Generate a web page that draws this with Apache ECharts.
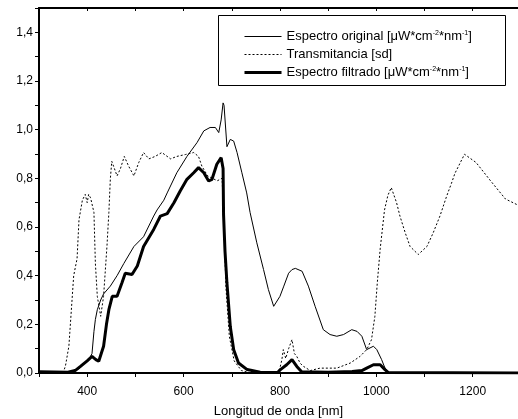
<!DOCTYPE html>
<html>
<head>
<meta charset="utf-8">
<script src="https://cdn.jsdelivr.net/npm/echarts@6/dist/echarts.min.js"></script>
<style>
  html, body { margin: 0; padding: 0; background: #fff; }
  #chart { width: 518px; height: 419px; }
</style>
</head>
<body>
<div id="chart"></div>
<script>
// espectro original
var origNm = [300, 340, 370, 385, 395, 405, 410, 414, 417, 421, 428, 434, 448, 462, 476, 497, 517, 538, 545, 559, 566, 586, 607, 628, 642, 655, 666, 673, 678, 682, 684, 690, 697, 704, 711, 721, 731, 738, 752, 766, 776, 787, 800, 808, 818, 825, 832, 846, 859, 873, 890, 904, 918, 932, 949, 960, 970, 980, 994, 1001, 1011, 1018, 1025, 1294];
var origVal = [0, 0, 0.005, 0.02, 0.04, 0.06, 0.08, 0.17, 0.22, 0.26, 0.3, 0.325, 0.357, 0.4, 0.45, 0.52, 0.56, 0.645, 0.67, 0.71, 0.74, 0.823, 0.89, 0.947, 0.995, 1.009, 1.009, 0.988, 1.04, 1.11, 1.1, 0.93, 0.96, 0.953, 0.906, 0.823, 0.74, 0.66, 0.535, 0.425, 0.343, 0.274, 0.315, 0.357, 0.41, 0.425, 0.43, 0.418, 0.357, 0.274, 0.178, 0.158, 0.151, 0.158, 0.178, 0.171, 0.151, 0.096, 0.11, 0.096, 0.055, 0.02, 0, 0];

// transmitancia
var transNm = [300, 350, 355, 362, 372, 379, 383, 390, 396, 400, 403, 407, 414, 417, 421, 428, 434, 441, 445, 448, 451, 454, 462, 469, 477, 486, 497, 507, 517, 528, 541, 555, 573, 586, 604, 621, 631, 638, 650, 670, 680, 684, 688, 695, 705, 720, 740, 795, 800, 804, 807, 812, 818, 825, 830, 835, 842, 849, 863, 883, 918, 946, 966, 980, 990, 997, 1002, 1008, 1017, 1024, 1031, 1042, 1049, 1060, 1070, 1087, 1105, 1118, 1132, 1146, 1156, 1163, 1183, 1207, 1237, 1268, 1294];
var transVal = [0, 0, 0.03, 0.11, 0.4, 0.47, 0.63, 0.71, 0.734, 0.70, 0.734, 0.72, 0.66, 0.45, 0.315, 0.233, 0.315, 0.52, 0.66, 0.796, 0.87, 0.875, 0.81, 0.84, 0.89, 0.85, 0.81, 0.865, 0.906, 0.88, 0.89, 0.906, 0.88, 0.89, 0.898, 0.906, 0.89, 0.85, 0.81, 0.79, 0.8, 0.6, 0.35, 0.15, 0.05, 0.01, 0, 0, 0.02, 0.055, 0.096, 0.06, 0.1, 0.137, 0.08, 0.068, 0.04, 0.027, 0.01, 0.02, 0.02, 0.041, 0.068, 0.096, 0.137, 0.233, 0.37, 0.51, 0.67, 0.73, 0.762, 0.70, 0.645, 0.576, 0.52, 0.487, 0.52, 0.576, 0.645, 0.727, 0.78, 0.82, 0.899, 0.865, 0.79, 0.715, 0.69];

// espectro filtrado
var filtNm = [300, 360, 375, 386, 400, 410, 418, 424, 434, 440, 445, 452, 462, 472, 479, 493, 504, 517, 538, 552, 566, 580, 593, 607, 621, 631, 642, 652, 659, 669, 678, 682, 683, 686, 690, 697, 704, 714, 732, 759, 795, 801, 814, 825, 835, 845, 900, 950, 970, 980, 994, 1008, 1018, 1025, 1294];
var filtVal = [0.005, 0.003, 0.01, 0.027, 0.05, 0.068, 0.055, 0.048, 0.11, 0.2, 0.26, 0.315, 0.315, 0.37, 0.41, 0.405, 0.44, 0.52, 0.59, 0.645, 0.655, 0.70, 0.748, 0.796, 0.823, 0.844, 0.823, 0.789, 0.796, 0.858, 0.885, 0.84, 0.65, 0.5, 0.37, 0.19, 0.096, 0.041, 0.014, 0.003, 0.002, 0.014, 0.034, 0.055, 0.027, 0.005, 0.003, 0.006, 0.01, 0.02, 0.034, 0.034, 0.014, 0.002, 0];

var seriesNames = [
  "Espectro original [μW*cm{sup|-2}*nm{sup|-1}]",
  "Transmitancia [sd]",
  "Espectro filtrado [μW*cm{sup|-2}*nm{sup|-1}]"
];
var lineWidths = [1, 1, 3];

function pairs(xs, ys) {
  return xs.map(function (x, i) { return [x, ys[i]]; });
}

var font = "Liberation Sans, Arial, sans-serif";

var option = {
  animation: false,
  backgroundColor: "#fff",
  grid: { left: 39, right: 0, top: 8, bottom: 46, outerBoundsMode: "none" },
  xAxis: [
    {
      type: "value",
      min: 300,
      max: 1294,
      interval: 100,
      name: "Longitud de onda [nm]",
      nameLocation: "middle",
      nameGap: 32,
      nameTextStyle: { color: "#000", fontSize: 13, fontFamily: font },
      axisLine: { show: true, lineStyle: { color: "#000", width: 2 } },
      axisTick: { show: true, length: 4, lineStyle: { color: "#000", width: 1 } },
      splitLine: { show: false },
      axisLabel: {
        color: "#000",
        fontSize: 12,
        fontFamily: font,
        margin: 13,
        showMaxLabel: false,
        formatter: function (v) {
          return (v - 400) % 200 === 0 ? String(v) : "";
        }
      }
    },
    {
      type: "value",
      position: "top",
      min: 300,
      max: 1294,
      interval: 100,
      axisLine: { show: true, lineStyle: { color: "#000", width: 2 } },
      axisTick: { show: true, inside: true, length: 3, lineStyle: { color: "#000", width: 1 } },
      axisLabel: { show: false },
      splitLine: { show: false }
    }
  ],
  yAxis: {
    type: "value",
    min: 0,
    max: 1.5,
    interval: 0.1,
    axisLine: { show: true, lineStyle: { color: "#000", width: 2 } },
    axisTick: { show: true, length: 4, lineStyle: { color: "#000", width: 1 } },
    splitLine: { show: false },
    axisLabel: {
      color: "#000",
      fontSize: 12,
      fontFamily: font,
      margin: 6,
      formatter: function (v) {
        var k = Math.round(v * 10);
        if (k % 2 !== 0) return "";
        return (k / 10).toFixed(1).replace(".", ",");
      }
    }
  },
  graphic: [
    {
      type: "rect",
      shape: { x: 218.5, y: 15.5, width: 287, height: 70 },
      style: { fill: "#fff", stroke: "#000", lineWidth: 1 },
      z: 10
    }
  ],
  legend: {
    orient: "vertical",
    left: 243,
    top: 30,
    padding: 0,
    itemWidth: 37,
    itemHeight: 15,
    itemGap: 5,
    z: 20,
    itemStyle: { opacity: 0 },
    textStyle: {
      color: "#000",
      fontSize: 13,
      fontFamily: font,
      rich: {
        sup: { fontSize: 7, verticalAlign: "top", color: "#000", fontFamily: font }
      }
    },
    data: seriesNames.map(function (n, i) {
      return { name: n, lineStyle: { width: lineWidths[i] } };
    }),
    selectedMode: false
  },
  series: [
    {
      name: seriesNames[0],
      type: "line",
      symbol: "none",
      data: pairs(origNm, origVal),
      lineStyle: { color: "#000", width: lineWidths[0] },
      itemStyle: { color: "#000" },
      z: 2
    },
    {
      name: seriesNames[1],
      type: "line",
      symbol: "none",
      data: pairs(transNm, transVal),
      lineStyle: { color: "#000", width: lineWidths[1], type: [2, 2] },
      itemStyle: { color: "#000" },
      z: 3
    },
    {
      name: seriesNames[2],
      type: "line",
      symbol: "none",
      data: pairs(filtNm, filtVal),
      lineStyle: { color: "#000", width: lineWidths[2] },
      itemStyle: { color: "#000" },
      z: 4
    }
  ]
};

var myChart = echarts.init(document.getElementById("chart"));
myChart.setOption(option);
</script>
</body>
</html>
